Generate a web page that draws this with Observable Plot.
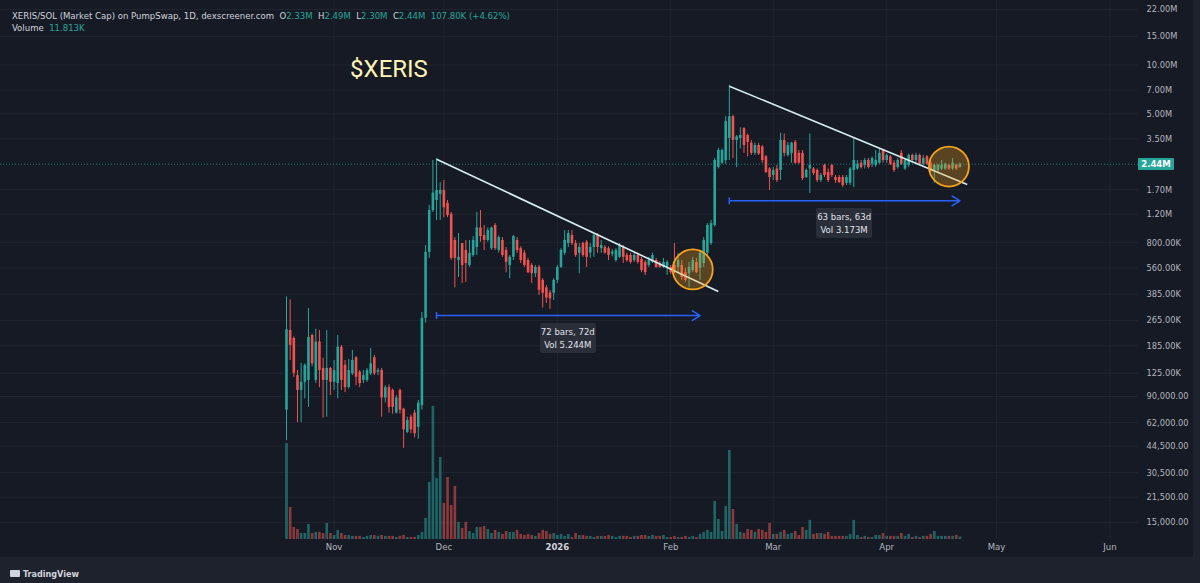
<!DOCTYPE html>
<html>
<head>
<meta charset="utf-8">
<script src="https://cdn.jsdelivr.net/npm/d3@7"></script>
<script src="https://cdn.jsdelivr.net/npm/@observablehq/plot@0.6"></script>
<style>
  html, body { margin:0; padding:0; background:#1e222d; }
  #wrap { position:relative; width:1200px; height:583px; background:#1e222d; overflow:hidden; font-family: "Liberation Sans Narrow", "DejaVu Sans Condensed", Roboto, sans-serif; }
  #panel { position:absolute; left:0; top:0; width:1193px; height:557px; background:#161a25; }
  #wrap svg { position:absolute; left:0; top:0; overflow:visible; }
  .hdr { position:absolute; left:12px; font-size:9.5px; color:#d1d4dc; white-space:nowrap; }
  .g { color:#26a69a; }
  .box { position:absolute; background:#2a2e39; color:#e0e3eb; font-size:9.5px; text-align:center; line-height:13px; padding:2px 0; border-radius:2px; width:56px; white-space:nowrap; }
  .price { position:absolute; background:#26a69a; color:#fff; font-size:9.5px; font-weight:bold; width:36px; height:12px; line-height:12px; text-align:center; border-radius:1px; }
  .logo { position:absolute; left:10px; top:569px; font-size:9px; font-weight:bold; color:#d1d4dc; }
  .logo b { display:inline-block; width:10px; height:7px; background:#d1d4dc; margin-right:3px; border-radius:1px; vertical-align:0px; }
</style>
</head>
<body>
<div id="wrap"><div id="panel"></div></div>
<script>
// ---------- data (market cap values in K) ----------
const firstDay = "2025-10-19";
const opens = [74,230,205,121,98,110,113,214,113,195,
134,113,134,110,108,181,140,102,124,156,
127,113,113,124,156,127,130,88,102,98,
71,98,75,54,67,71,58,79,273,697,
1264,1458,1590,1680,1400,1200,826,621,790,716,
579,667,747,987,886,826,735,1022,716,826,
716,579,650,826,735,690,621,579,515,563,
468,421,392,390,468,563,688,790,886,790,
688,790,805,690,747,886,735,747,735,680,
621,650,747,667,667,621,667,630,605,579,
605,621,595,563,563,563,579,563,579,522,
515,539,605,555,595,688,790,1022,2327,2475,
2573,3520,4800,3419,3520,4050,3671,3290,2850,3185,
3120,2710,2280,2079,2280,2232,3419,2763,2850,3330,
2850,2850,2020,2280,2280,2232,1937,2397,2170,2397,
2020,2020,2020,1860,1860,2232,2280,2475,2397,2573,
2440,2397,2475,2966,2573,2710,2475,2327,2850,2280,
2397,2763,2573,2763,2440,2710,2475,2232,2232,2280,
2280,2397,2280,2397,2330];
const highs = [370,355,210,130,144,143,314,218,234,230,
155,230,136,150,214,186,150,152,173,158,
130,130,134,178,161,134,134,105,106,100,
91,100,76,67,69,74,85,297,769,1358,
2573,2650,1880,1937,1458,1230,860,912,790,826,
826,873,1230,1264,1022,987,1000,1050,880,860,
747,667,886,860,755,716,640,595,579,579,
480,435,406,480,579,735,952,952,952,826,
790,805,826,790,912,912,826,769,755,726,
735,790,769,688,688,688,688,650,621,650,
690,640,612,640,621,579,790,688,621,555,
605,650,640,716,860,1050,1097,2650,3060,3030,
4800,7500,4900,3671,4100,4100,3750,3419,3290,3290,
3185,2763,2327,2327,2397,3790,3750,3330,3330,3419,
2966,2966,2280,3750,2327,2280,2140,2440,2280,2440,
2079,2079,2079,2079,2327,3520,2573,2573,2650,2650,
2710,2966,3030,3030,2820,2763,2573,2650,2966,2650,
2820,2820,2850,2820,2763,2763,2573,2440,2440,2573,
2475,2440,2650,2440,2490];
const lows = [48,150,118,62,62,87,77,137,108,102,
66,67,91,98,87,98,95,100,121,105,
102,108,110,121,121,121,67,82,71,70,
70,70,43,53,53,50,49,74,255,640,
1230,1097,1097,1140,1140,621,421,488,448,455,
563,650,667,805,716,805,716,716,690,650,
522,480,621,688,595,563,515,448,488,378,
316,337,310,352,448,555,667,747,769,650,
515,650,563,640,650,688,688,680,621,655,
605,640,595,605,590,605,590,522,502,563,
595,555,555,555,502,510,515,522,468,455,
421,522,515,468,563,667,769,1000,2280,2440,
2440,2573,2650,2327,3030,2850,2710,2763,2763,2763,
2475,2140,1680,1937,1880,1937,2710,2710,2475,2440,
2440,1937,1990,1610,2079,1880,1880,2020,1880,2020,
1860,1860,1750,1804,1804,1750,2232,2280,2280,2280,
2327,2327,2440,2475,2475,2397,2170,2280,2397,2232,
2327,2475,2475,2397,2397,2397,2170,1860,2170,2232,
2232,2232,2232,2232,2300];
const closes = [232,186,125,98,110,140,208,143,195,130,
113,134,110,130,181,113,102,130,150,118,
108,121,130,143,124,130,88,102,77,77,
88,74,56,64,56,53,82,273,697,1264,
1620,1680,1680,1315,1178,640,640,650,579,595,
688,826,987,873,826,952,987,735,860,667,
605,650,873,716,621,579,522,515,563,406,
390,364,360,468,563,716,826,912,790,667,
747,667,650,747,886,747,769,690,667,700,
716,769,650,621,605,667,605,539,522,621,
667,563,563,605,605,522,539,621,488,468,
563,621,522,690,826,1022,1050,2573,2966,2966,
4472,4800,3419,3600,3671,3185,3330,2850,3185,2820,
2573,2170,2020,2232,1937,3419,2850,3185,3290,2475,
2475,1990,2232,2397,2140,1937,2079,2079,1937,2079,
1937,1880,1804,2020,2280,2573,2440,2327,2573,2327,
2650,2573,2850,2573,2763,2440,2232,2573,2440,2573,
2763,2573,2763,2440,2650,2440,2232,2397,2397,2397,
2440,2280,2475,2280,2440];
// volume in K
const volumes = [432,144,54,45,27,27,68,27,32,32,
27,72,27,18,41,27,18,18,14,14,
14,9,14,18,18,14,18,14,14,14,
9,14,18,9,9,9,18,32,95,257,
599,275,369,162,279,153,239,77,50,77,
36,27,54,54,59,45,27,41,32,23,
36,32,32,41,23,18,23,18,14,27,
41,36,23,27,18,23,14,23,9,27,
18,18,14,14,9,14,14,14,18,14,
9,14,14,14,9,14,14,18,18,14,
18,14,14,18,9,9,14,9,9,14,
9,14,9,23,32,41,32,171,90,36,
149,401,135,68,32,27,45,41,32,45,
41,32,72,23,23,32,41,23,27,36,
18,54,41,86,23,27,27,23,32,14,
14,14,14,14,23,86,18,9,14,9,
9,18,18,27,14,14,14,14,27,14,
23,9,14,9,14,14,23,36,14,14,
14,14,14,18,11.8];

const yTickValues = [22e6,15e6,10e6,7e6,5e6,3.5e6,1.7e6,1.2e6,800e3,560e3,385e3,265e3,185e3,125e3,90e3,62e3,44.5e3,30.5e3,21.5e3,15e3];
const yTickLabels = ["22.00M","15.00M","10.00M","7.00M","5.00M","3.50M","1.70M","1.20M","800.00K","560.00K","385.00K","265.00K","185.00K","125.00K","90,000.00","62,000.00","44,500.00","30,500.00","21,500.00","15,000.00"];
const monthTicks = ["2025-11-01","2025-12-01","2026-02-01","2026-03-01","2026-04-01","2026-05-01","2026-06-01"];
const monthLabels = ["Nov","Dec","Feb","Mar","Apr","May","Jun"];
const yearTick = ["2026-01-01"];
const yearLabel = ["2026"];

const lastPrice = 2.44e6;
const lastPriceLabel = "2.44M";

// trend lines: start/end day index and value
const trendStartIdx = [41, 121];
const trendStartVal = [2.62e6, 7.4e6];
const trendEndIdx = [118, 186];
const trendEndVal = [0.40e6, 1.83e6];
// highlighted breakout circles
const circleIdx = [111, 181];
const circleVal = [547e3, 2.36e6];
// date range measurements
const measureStartIdx = [41, 121];
const measureEndIdx = [113, 184];
const measureVal = [284e3, 1.45e6];
const measureLine1 = ["72 bars, 72d", "63 bars, 63d"];
const measureLine2 = ["Vol 5.244M", "Vol 3.173M"];

const header = {
  title: "XERIS/SOL (Market Cap) on PumpSwap, 1D, dexscreener.com",
  o: "2.33M", h: "2.49M", l: "2.30M", c: "2.44M", chg: "107.80K (+4.62%)", vol: "11.813K"
};

// ---------- build ----------
const FONT = '"Liberation Sans Narrow", "DejaVu Sans Condensed", Roboto, sans-serif';
const UP = "#26a69a", DOWN = "#ef5350";
const d0 = new Date(firstDay + "T00:00:00Z");
const dayAt = i => new Date(d0.getTime() + i * 864e5);
const bars = opens.map((o, i) => ({
  date: dayAt(i), open: o * 1e3, high: highs[i] * 1e3, low: lows[i] * 1e3, close: closes[i] * 1e3, vol: volumes[i] * 1e3,
  up: closes[i] >= o
}));
const upBars = bars.filter(d => d.up), downBars = bars.filter(d => !d.up);
const trends = trendStartIdx.map((s, i) => ({x1: dayAt(s), y1: trendStartVal[i], x2: dayAt(trendEndIdx[i]), y2: trendEndVal[i]}));
const circles = circleIdx.map((c, i) => ({x: dayAt(c), y: circleVal[i]}));
const measures = measureStartIdx.map((s, i) => ({x1: dayAt(s), x2: dayAt(measureEndIdx[i]), y: measureVal[i]}));

const xOpt = {type: "utc", domain: [bars[0].date, bars[bars.length - 1].date], range: [286, 959.4]};
const yOpt = {type: "log", domain: [15e3, 22e6], range: [522, 9]};
const base = {
  width: 1200, height: 583, marginTop: 0, marginLeft: 0, marginRight: 62, marginBottom: 44,
  style: {background: "transparent", color: "#b2b5be", fontFamily: FONT, fontSize: "9px", overflow: "visible"}
};
const mDates = monthTicks.map(s => new Date(s + "T00:00:00Z"));
const yDates = yearTick.map(s => new Date(s + "T00:00:00Z"));

const wrap = document.getElementById("wrap");

const gridPlot = Plot.plot({
  ...base, x: xOpt, y: yOpt,
  axis: null,
  marks: [
    Plot.gridY(yTickValues, {stroke: "#2a2e39", strokeOpacity: 0.55}),
    Plot.gridX([...mDates, ...yDates], {stroke: "#2a2e39", strokeOpacity: 0.55}),
    Plot.text(yTickValues, {y: d => d, frameAnchor: "right", dx: 8, textAnchor: "start", text: (d, i) => yTickLabels[i], fill: "#b2b5be", fontSize: 9.2}),
    Plot.text(mDates, {x: d => d, frameAnchor: "bottom", dy: 10, text: (d, i) => monthLabels[i], fill: "#b2b5be", fontSize: 9.5}),
    Plot.text(yDates, {x: d => d, frameAnchor: "bottom", dy: 10, text: (d, i) => yearLabel[i], fill: "#d1d4dc", fontSize: 9.5, fontWeight: "bold"})
  ]
});
wrap.appendChild(gridPlot);

const volPlot = Plot.plot({
  ...base, x: xOpt, y: {type: "linear", domain: [0, 539 * 4500], range: [539, 0]},
  axis: null,
  marks: [
    Plot.ruleX(upBars, {x: "date", y1: 0, y2: "vol", stroke: UP, strokeOpacity: 0.55, strokeWidth: 2.6}),
    Plot.ruleX(downBars, {x: "date", y1: 0, y2: "vol", stroke: DOWN, strokeOpacity: 0.55, strokeWidth: 2.6})
  ]
});
wrap.appendChild(volPlot);

const vbar = {draw(ctx, size) { const h = Math.sqrt(size / Math.PI); ctx.moveTo(0, -h); ctx.lineTo(0, h); }};

const main = Plot.plot({
  ...base, x: xOpt, y: yOpt,
  axis: null,
  marks: [
    Plot.ruleY([lastPrice], {stroke: UP, strokeOpacity: 0.7, strokeDasharray: "1,2"}),
    Plot.ruleX(upBars, {x: "date", y1: "low", y2: "high", stroke: UP, strokeWidth: 1}),
    Plot.ruleX(downBars, {x: "date", y1: "low", y2: "high", stroke: DOWN, strokeWidth: 1}),
    Plot.ruleX(upBars, {x: "date", y1: "open", y2: "close", stroke: UP, strokeWidth: 2.6}),
    Plot.ruleX(downBars, {x: "date", y1: "open", y2: "close", stroke: DOWN, strokeWidth: 2.6}),
    Plot.link(trends, {x1: "x1", y1: "y1", x2: "x2", y2: "y2", stroke: "#d6eef0", strokeWidth: 1.6}),
    Plot.dot(circles, {x: "x", y: "y", r: 20, stroke: "#f7a21b", strokeWidth: 1.8, fill: "#f7a21b", fillOpacity: 0.3}),
    Plot.arrow(measures, {x1: "x1", y1: "y", x2: "x2", y2: "y", stroke: "#2962ff", strokeWidth: 1.5, headLength: 9, headAngle: 64}),
    Plot.dot(measures, {x: "x1", y: "y", symbol: vbar, r: 3.5, stroke: "#2962ff", strokeWidth: 1.5, fill: "none"}),
    Plot.text(["$XERIS"], {x: dayAt(28), y: 9.4e6, text: d => d, fontSize: 24, fill: "#fff3b5", fontFamily: "Roboto, sans-serif"})
  ]
});
wrap.appendChild(main);

const sx = main.scale("x"), sy = main.scale("y");

// header
const hdr1 = document.createElement("div");
hdr1.className = "hdr"; hdr1.style.top = "10px";
hdr1.innerHTML = `${header.title}&nbsp;&nbsp;O<span class="g">${header.o}</span>&nbsp; H<span class="g">${header.h}</span>&nbsp; L<span class="g">${header.l}</span>&nbsp; C<span class="g">${header.c}</span>&nbsp; <span class="g">${header.chg}</span>`;
wrap.appendChild(hdr1);
const hdr2 = document.createElement("div");
hdr2.className = "hdr"; hdr2.style.top = "22px";
hdr2.innerHTML = `Volume&nbsp;&nbsp;<span class="g">${header.vol}</span>`;
wrap.appendChild(hdr2);

// price label
const pl = document.createElement("div");
pl.className = "price";
pl.textContent = lastPriceLabel;
pl.style.left = (1200 - 62) + "px";
pl.style.top = (sy.apply(lastPrice) - 6) + "px";
wrap.appendChild(pl);

// measurement boxes
measures.forEach((m, i) => {
  const b = document.createElement("div");
  b.className = "box";
  b.innerHTML = `${measureLine1[i]}<br>${measureLine2[i]}`;
  const cx = (sx.apply(m.x1) + sx.apply(m.x2)) / 2;
  b.style.left = (cx - 28) + "px";
  b.style.top = (sy.apply(m.y) + 8) + "px";
  wrap.appendChild(b);
});

const logo = document.createElement("div");
logo.className = "logo";
logo.innerHTML = "<b></b>TradingView";
wrap.appendChild(logo);
</script>
</body>
</html>
